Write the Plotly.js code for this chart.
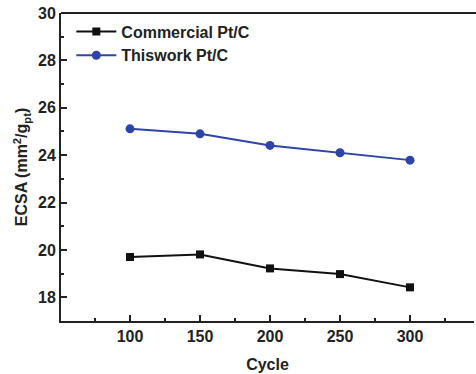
<!DOCTYPE html>
<html><head><meta charset="utf-8">
<script src="https://cdn.plot.ly/plotly-3.0.1.min.js"></script>
<style>html,body{margin:0;padding:0;background:#fff;overflow:hidden}#chart{width:476px;height:374px}</style>
</head><body><div id="chart"></div>
<script>
const cycles = [100, 150, 200, 250, 300];
const commercial = [19.70, 19.81, 19.22, 18.98, 18.42];
const thiswork = [25.11, 24.90, 24.41, 24.10, 23.79];
const seriesNames = ["Commercial Pt/C", "Thiswork Pt/C"];

const fam = "Liberation Sans, Arial, sans-serif";
const bold = {family: fam, size: 16, color: "#222", weight: "bold"};
const traces = [
  {x: cycles, y: commercial, name: seriesNames[0], type: "scatter", mode: "lines+markers",
   line: {color: "#111", width: 2}, marker: {symbol: "square", size: 8, color: "#111"}},
  {x: cycles, y: thiswork, name: seriesNames[1], type: "scatter", mode: "lines+markers",
   line: {color: "#2f44a8", width: 2}, marker: {symbol: "circle", size: 9, color: "#2f44a8"}}
];
const layout = {
  width: 476, height: 374,
  margin: {l: 61, r: 2, t: 13, b: 53},
  paper_bgcolor: "#fff", plot_bgcolor: "#fff",
  showlegend: true,
  legend: {x: 0.025, y: 0.995, xanchor: "left", yanchor: "top", bgcolor: "rgba(0,0,0,0)",
    font: bold, tracegroupgap: 0, itemwidth: 40},
  shapes: [{type: "line", xref: "paper", yref: "paper", x0: 0, x1: 1.01, y0: 1, y1: 1,
    line: {color: "#222", width: 2}}],
  xaxis: {range: [50.7, 345.7], tickvals: [100, 150, 200, 250, 300], ticks: "inside", ticklen: 6, tickwidth: 2,
    tickcolor: "#222", showline: true, linecolor: "#222", linewidth: 2, mirror: false, showgrid: false, zeroline: false,
    minor: {dtick: 25, tick0: 0, ticks: "inside", ticklen: 3, tickwidth: 2, tickcolor: "#222", showgrid: false},
    tickfont: bold,
    title: {text: "Cycle", font: bold, standoff: 15}},
  yaxis: {range: [17, 30], tickvals: [18, 20, 22, 24, 26, 28, 30], ticks: "inside", ticklen: 6, tickwidth: 2,
    tickcolor: "#222", showline: true, linecolor: "#222", linewidth: 2, mirror: false, showgrid: false, zeroline: false,
    minor: {dtick: 1, ticks: "inside", ticklen: 3, tickwidth: 2, tickcolor: "#222", showgrid: false},
    tickfont: bold,
    title: {text: "ECSA (mm<sup>2</sup>/g<sub>pt</sub>)", font: bold, standoff: 6}}
};
Plotly.newPlot("chart", traces, layout, {displayModeBar: false, staticPlot: true});
</script></body></html>
